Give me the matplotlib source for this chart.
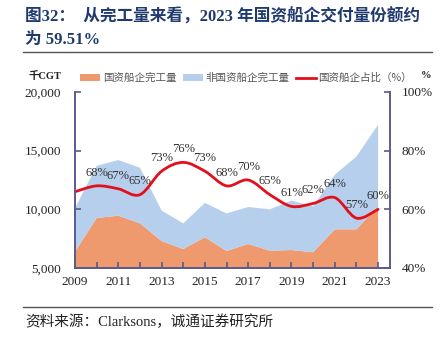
import matplotlib
matplotlib.use("Agg")
import matplotlib.pyplot as plt
from matplotlib.path import Path
from matplotlib.patches import PathPatch, Patch
from matplotlib.lines import Line2D

# data (thousand CGT and %)
years = [2009, 2010, 2011, 2012, 2013, 2014, 2015, 2016, 2017, 2018, 2019, 2020, 2021, 2022, 2023]
state_owned = [6400, 9260, 9460, 8810, 7300, 6620, 7620, 6450, 7050, 6480, 6530, 6340, 8300, 8300, 10250]
non_state = [3700, 4440, 4740, 4740, 2600, 2180, 2930, 3200, 3150, 3520, 4220, 3910, 4650, 6200, 6950]
share = [66, 68, 67, 65, 73, 76, 73, 68, 70, 65, 61, 62, 64, 57, 60]
share_labels = ["", "68%", "67%", "65%", "73%", "76%", "73%", "68%", "70%", "65%", "61%", "62%", "64%", "57%", "60%"]
x_ticks = [2009, 2011, 2013, 2015, 2017, 2019, 2021, 2023]

ORANGE = "#EE9A6E"
BLUE = "#B6CFEC"
RED = "#E3101C"
AXC = "#5A5A8C"
NAVY = "#1F3A6E"
SERIF = ["Liberation Serif", "Noto Sans CJK SC"]
CJK = ["Noto Sans CJK SC", "DejaVu Sans"]

fig = plt.figure(figsize=(4.44, 3.40), dpi=100)
ax = fig.add_axes([75 / 444, 1 - 268 / 340, 315 / 444, 176 / 340])

ax.stackplot(years, state_owned, non_state, colors=[ORANGE, BLUE], linewidth=0)
ax.set_xlim(2009, 2023.55)
ax.set_ylim(5000, 20000)
ax.set_yticks([5000, 10000, 15000, 20000])
ax.set_yticklabels(["5,000", "10,000", "15,000", "20,000"], family=SERIF, fontsize=9.5, color="#222222")
ax.set_xticks(years, minor=True)
ax.set_xticks(x_ticks)
ax.set_xticklabels([str(y) for y in x_ticks], family=SERIF, fontsize=9.5, color="#222222")
ax.tick_params(axis="both", which="both", direction="in", color=AXC, length=4, width=1.2)
ax.tick_params(axis="x", which="major", pad=6)
ax.tick_params(axis="y", pad=10)
ax.spines["top"].set_visible(False)
for s in ["left", "bottom", "right"]:
    ax.spines[s].set_color(AXC)
    ax.spines[s].set_linewidth(1.2)

ax2 = ax.twinx()
ax2.set_ylim(40, 100)
ax2.set_yticks([40, 60, 80, 100])
ax2.set_yticklabels(["40%", "60%", "80%", "100%"], family=SERIF, fontsize=9.5, color="#222222")
ax2.tick_params(axis="y", direction="in", color=AXC, length=4, width=1.2, pad=8.5)
ax2.spines["top"].set_visible(False)
for s in ["left", "bottom", "right"]:
    ax2.spines[s].set_color(AXC)
    ax2.spines[s].set_linewidth(1.2)

# smoothed line (Bezier path through the points, like Excel's smoothing)
pts = list(zip(years, share))
verts = [pts[0]]
codes = [Path.MOVETO]
n = len(pts)
for i in range(n - 1):
    p0 = pts[max(i - 1, 0)]
    p1 = pts[i]
    p2 = pts[i + 1]
    p3 = pts[min(i + 2, n - 1)]
    c1 = (p1[0] + (p2[0] - p0[0]) / 6, p1[1] + (p2[1] - p0[1]) / 6)
    c2 = (p2[0] - (p3[0] - p1[0]) / 6, p2[1] - (p3[1] - p1[1]) / 6)
    verts += [c1, c2, p2]
    codes += [Path.CURVE4] * 3
ax2.add_patch(PathPatch(Path(verts, codes), fill=False, edgecolor=RED, linewidth=2.0,
                        capstyle="round", joinstyle="round"))

for yr, v, lab in zip(years, share, share_labels):
    if lab:
        ax2.annotate(lab, (yr, v), xytext=(0, 9.5), textcoords="offset points",
                     ha="center", va="center", family=SERIF, fontsize=9, color="#333333")

# legend
handles = [Patch(facecolor=ORANGE, edgecolor="none"),
           Patch(facecolor=BLUE, edgecolor="none"),
           Line2D([], [], color=RED, linewidth=2.0)]
names = ["国资船企完工量", "非国资船企完工量", "国资船企占比（%）"]
fig.legend(handles, names, loc="center left", bbox_to_anchor=(80 / 444, 1 - 78 / 340), ncol=3,
           frameon=False, prop={"family": CJK, "size": 7.6}, handlelength=1.9, handleheight=0.6,
           handletextpad=0.25, columnspacing=0.6, borderpad=0, borderaxespad=0,
           labelcolor="#555555")

fig.text(45 / 444, 1 - 76 / 340, "千CGT", ha="center", va="center", family=SERIF,
         fontsize=7.5, fontweight="bold", color="#222222")
fig.text(426 / 444, 1 - 76 / 340, "%", ha="center", va="center", family=SERIF,
         fontsize=7.5, fontweight="bold", color="#222222")

# title, rules and source
fig.text(25 / 444, 1 - 17 / 340, "图32：  从完工量来看，2023 年国资船企交付量份额约", ha="left", va="center",
         family=SERIF, fontsize=12, fontweight="bold", color=NAVY)
fig.text(25 / 444, 1 - 40 / 340, "为 59.51%", ha="left", va="center",
         family=SERIF, fontsize=12, fontweight="bold", color=NAVY)
fig.add_artist(Line2D([23 / 444, 432 / 444], [1 - 52 / 340, 1 - 52 / 340], color="#555555", linewidth=1.0))
fig.add_artist(Line2D([23 / 444, 432 / 444], [1 - 307 / 340, 1 - 307 / 340], color="#555555", linewidth=1.0))
fig.text(25 / 444, 1 - 322 / 340, "资料来源：Clarksons，诚通证券研究所", ha="left", va="center",
         family=SERIF, fontsize=10.5, color="#222222")

fig.savefig("out.png", dpi=100)
